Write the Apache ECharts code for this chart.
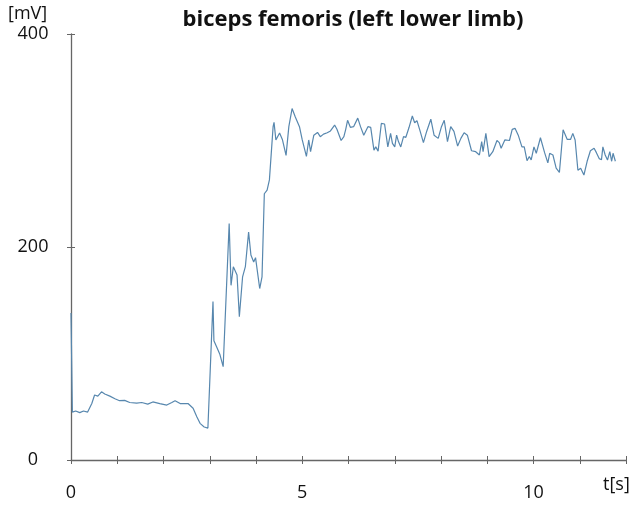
<!DOCTYPE html>
<html>
<head>
<meta charset="utf-8">
<script src="https://cdn.jsdelivr.net/npm/echarts@6/dist/echarts.min.js"></script>
<style>html,body{margin:0;padding:0;background:#fff}#c{width:636px;height:508px}</style>
</head>
<body>
<div id="c"></div>
<script>
var title = 'biceps femoris (left lower limb)';
var yUnit = '[mV]';
var xUnit = 't[s]';
var xTickLabels = {0: '0', 5: '5', 10: '10'};
var yTickLabels = {0: '0', 200: '200', 400: '400'};

var timeSec = [0.00,0.03,0.10,0.19,0.27,0.36,0.45,0.51,0.58,0.66,0.73,0.84,0.95,1.05,1.16,1.27,1.42,1.53,1.66,1.77,1.92,2.07,2.18,2.25,2.36,2.53,2.64,2.72,2.79,2.88,2.96,3.07,3.09,3.15,3.22,3.26,3.29,3.42,3.46,3.51,3.59,3.64,3.71,3.77,3.84,3.89,3.95,3.99,4.08,4.13,4.18,4.24,4.29,4.37,4.39,4.43,4.51,4.57,4.65,4.71,4.78,4.85,4.94,5.00,5.09,5.14,5.18,5.25,5.33,5.39,5.46,5.54,5.61,5.70,5.75,5.84,5.90,5.94,5.98,6.04,6.11,6.20,6.26,6.33,6.42,6.48,6.55,6.59,6.64,6.71,6.78,6.85,6.91,6.95,7.00,7.04,7.08,7.13,7.19,7.24,7.31,7.38,7.43,7.48,7.55,7.62,7.69,7.78,7.85,7.94,8.01,8.07,8.14,8.21,8.28,8.36,8.43,8.50,8.57,8.66,8.75,8.83,8.88,8.91,8.97,9.04,9.12,9.21,9.26,9.30,9.38,9.48,9.54,9.60,9.67,9.75,9.80,9.86,9.91,9.95,10.01,10.06,10.15,10.24,10.27,10.31,10.35,10.42,10.49,10.56,10.64,10.73,10.80,10.85,10.90,10.96,11.02,11.09,11.16,11.23,11.31,11.36,11.42,11.47,11.50,11.55,11.60,11.65,11.69,11.72,11.77];
var emgMV = [138,45,46,44.5,46,45,53,61,60,64,62,60,57.5,55.7,56,54,53.4,54,52.5,54.5,53,51.6,54,55.7,53,53,48.6,40.7,34.4,31,30,148.7,112,106,99,100,87.6,222,164,181.5,173.7,134.6,172,181.5,214,192.5,186,190,161,172,250,253.5,263,313,317,300.5,307,301,286,313,330,322,313,300.5,285,300.5,289.5,305,307.6,303.6,306,307.3,309,314.5,310.5,300,303.6,310.5,319,312.4,313,321,313,305,313,312.4,291,294,290,316,315.5,294,306.7,297.3,294,305,299,294,303.6,303,312.4,323,316.7,318.6,308.5,298,308.5,320,305,302,313,319,299,313,308.5,294.8,302,307.3,305,290.4,289.5,286.4,299,289.5,306.7,284.8,289.5,300,298,292.7,300.5,300,310.5,311.4,305,294,294,281,285,281.7,294,288,302.6,288.6,288,279,288,286.4,274,270,310,301,301,306.7,300.5,272,274,267.6,280.5,290.4,292.7,288.6,283,282,294,286.4,281.7,289.5,280.5,288,280.5];

var seriesData = timeSec.map(function (t, i) { return [t, emgMV[i]]; });
var font = '"Open Sans", "Noto Sans", sans-serif';
var axisCol = '#666';

var chart = echarts.init(document.getElementById('c'), null, {renderer: 'canvas'});
chart.setOption({
  animation: false,
  backgroundColor: '#fff',
  title: {
    text: title, left: 348, top: 4, textAlign: 'center',
    textStyle: {fontFamily: font, fontWeight: 'bold', fontSize: 22, color: '#111'}
  },
  grid: {left: 71, right: 10, top: 34, bottom: 48},
  xAxis: [{
    type: 'value', min: 0, max: 12, interval: 1,
    axisLine: {show: true, lineStyle: {color: axisCol, width: 1.3}},
    axisTick: {show: true, inside: false, length: 4, lineStyle: {color: axisCol}},
    splitLine: {show: false},
    axisLabel: {
      margin: 24, fontFamily: font, fontSize: 18, color: '#111',
      formatter: function (v) { return xTickLabels[v] !== undefined ? xTickLabels[v] : ''; }
    }
  }, {
    type: 'value', min: 0, max: 12, interval: 1, position: 'bottom',
    axisLine: {show: false},
    axisTick: {show: true, inside: true, length: 4, lineStyle: {color: axisCol}},
    splitLine: {show: false}, axisLabel: {show: false}
  }],
  yAxis: [{
    type: 'value', min: 0, max: 400, interval: 200,
    axisLine: {show: true, lineStyle: {color: axisCol, width: 1.3}},
    axisTick: {show: true, inside: false, length: 4, lineStyle: {color: axisCol}},
    splitLine: {show: false},
    axisLabel: {
      margin: 38, align: 'center', fontFamily: font, fontSize: 18, color: '#111',
      formatter: function (v) { return yTickLabels[v] !== undefined ? yTickLabels[v] : ''; }
    }
  }, {
    type: 'value', min: 0, max: 400, interval: 200, position: 'left',
    axisLine: {show: false},
    axisTick: {show: true, inside: true, length: 4, lineStyle: {color: axisCol}},
    splitLine: {show: false}, axisLabel: {show: false}
  }],
  graphic: [
    {type: 'text', left: 8, top: 5, style: {text: yUnit, fontFamily: font, fontSize: 18, fill: '#111'}},
    {type: 'text', left: 603, top: 476, style: {text: xUnit, fontFamily: font, fontSize: 18, fill: '#111'}}
  ],
  series: [{
    type: 'line', data: seriesData, showSymbol: false, symbol: 'none',
    lineStyle: {color: '#5787ae', width: 1.2}
  }]
});
</script>
</body>
</html>
